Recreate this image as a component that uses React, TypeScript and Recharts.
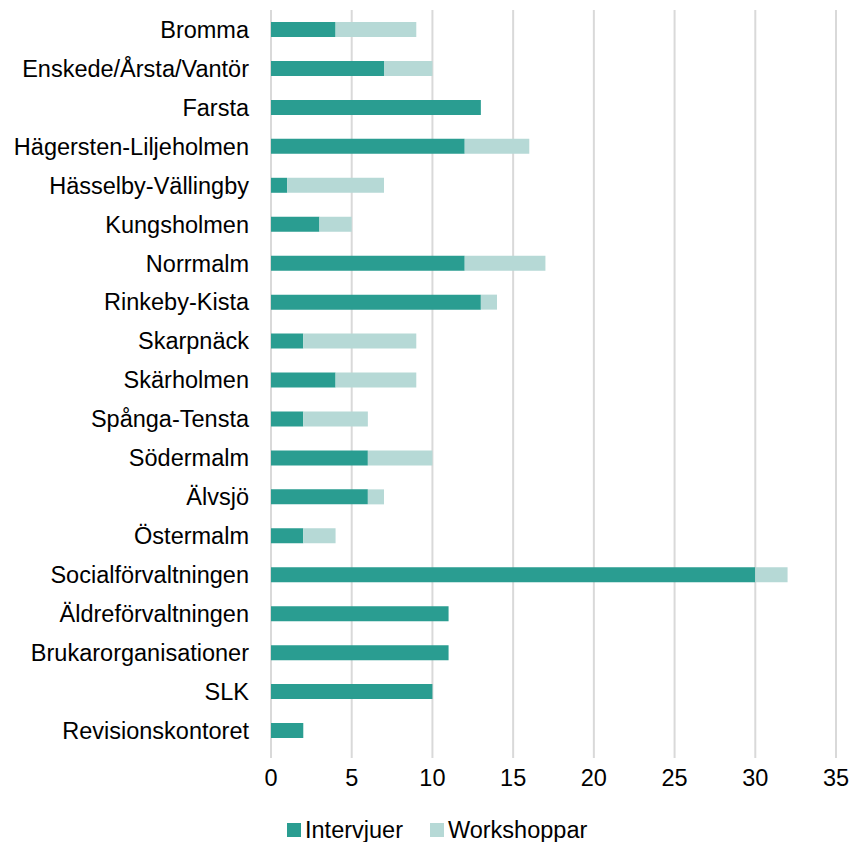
import React from "react";
import { BarChart, Bar, XAxis, YAxis, CartesianGrid, Legend } from "recharts";

const categories = [
  "Bromma",
  "Enskede/Årsta/Vantör",
  "Farsta",
  "Hägersten-Liljeholmen",
  "Hässelby-Vällingby",
  "Kungsholmen",
  "Norrmalm",
  "Rinkeby-Kista",
  "Skarpnäck",
  "Skärholmen",
  "Spånga-Tensta",
  "Södermalm",
  "Älvsjö",
  "Östermalm",
  "Socialförvaltningen",
  "Äldreförvaltningen",
  "Brukarorganisationer",
  "SLK",
  "Revisionskontoret",
];
const intervjuer = [4, 7, 13, 12, 1, 3, 12, 13, 2, 4, 2, 6, 6, 2, 30, 11, 11, 10, 2];
const workshoppar = [5, 3, 0, 4, 6, 2, 5, 1, 7, 5, 4, 4, 1, 2, 2, 0, 0, 0, 0];
const xTicks = [0, 5, 10, 15, 20, 25, 30, 35];

const data = categories.map((name, i) => ({
  name,
  Intervjuer: intervjuer[i],
  Workshoppar: workshoppar[i],
}));

const DARK = "#2A9D91";
const LIGHT = "#B6D9D6";
const FONT = "'Liberation Sans', Arial, sans-serif";
const FS = 23.5;

const LegendContent = () => (
  <div
    style={{
      display: "flex",
      justifyContent: "flex-start",
      alignItems: "center",
      fontFamily: FONT,
      fontSize: FS,
      color: "#000",
      height: 30,
      paddingLeft: 287,
    }}
  >
    {[
      ["Intervjuer", DARK],
      ["Workshoppar", LIGHT],
    ].map(([label, color]) => (
      <div key={label} style={{ display: "flex", alignItems: "center", marginRight: 27 }}>
        <span style={{ width: 14, height: 14, background: color, display: "inline-block", marginRight: 4 }} />
        <span>{label}</span>
      </div>
    ))}
  </div>
);

export default function App() {
  return (
    <div style={{ position: "absolute", left: 0, top: 0, width: 852, height: 842, background: "#fff" }}>
      <BarChart
        width={852}
        height={842}
        data={data}
        layout="vertical"
        margin={{ top: 10, right: 16, left: 0, bottom: 22 }}
        barSize={15}
      >
        <CartesianGrid horizontal={false} stroke="#d9d9d9" strokeWidth={2} />
        <XAxis
          type="number"
          domain={[0, 35]}
          ticks={xTicks}
          axisLine={false}
          tickLine={{ stroke: "#d9d9d9", strokeWidth: 2 }}
          tickSize={8}
          tickMargin={11}
          height={40}
          tick={{ fill: "#000", fontSize: FS, fontFamily: FONT }}
        />
        <YAxis
          type="category"
          dataKey="name"
          width={271}
          axisLine={false}
          tickLine={false}
          tickSize={0}
          tickMargin={22}
          interval={0}
          tick={{ fill: "#000", fontSize: FS, fontFamily: FONT }}
        />
        <Legend
          verticalAlign="bottom"
          content={<LegendContent />}
          wrapperStyle={{ bottom: -3 }}
        />
        <Bar dataKey="Intervjuer" stackId="a" fill={DARK} isAnimationActive={false} />
        <Bar dataKey="Workshoppar" stackId="a" fill={LIGHT} isAnimationActive={false} />
      </BarChart>
    </div>
  );
}
